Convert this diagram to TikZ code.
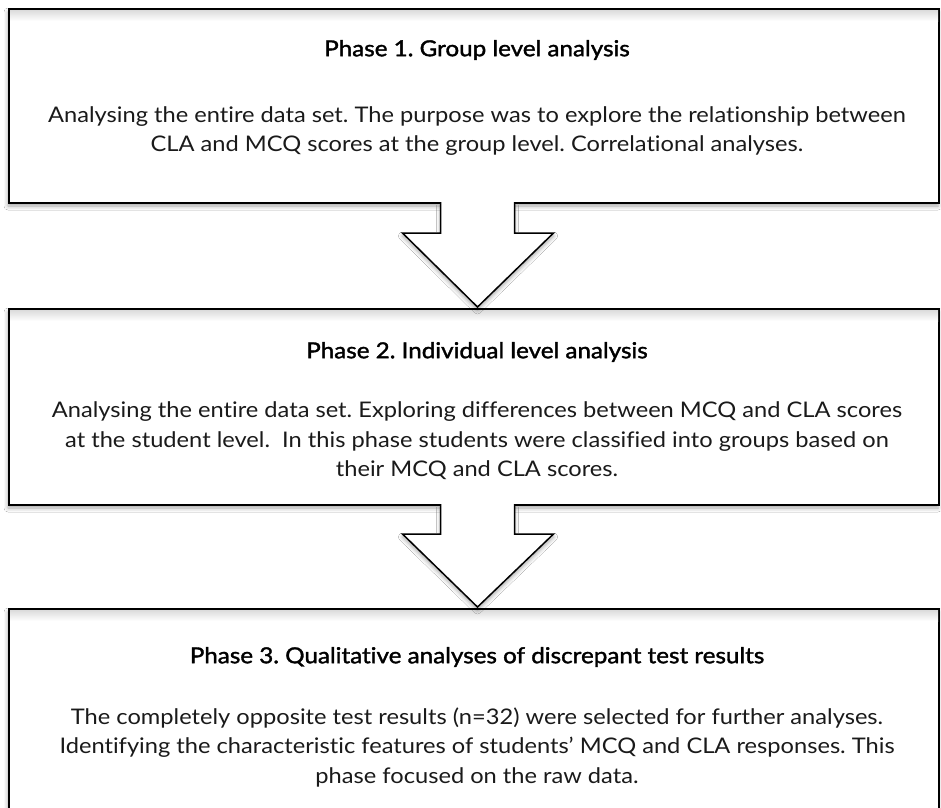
\documentclass[tikz,border=0pt]{standalone}
\usepackage{fontspec}
\setmainfont[FakeStretch=1.1, Ligatures=NoCommon]{Lato}
\newfontfamily\headfont[FakeStretch=1.1, FakeBold=1.6, Ligatures=NoCommon]{Lato}
\usetikzlibrary{calc,shadows.blur}
\definecolor{ink}{HTML}{1A1A1A}
\frenchspacing
\tikzset{
  phasebox/.style={draw=black, line width=2pt, fill=white, minimum width=930pt,
    inner sep=0pt, outer sep=0pt,
    blur shadow={shadow xshift=-1pt, shadow yshift=-3pt, shadow blur radius=4pt, shadow opacity=35}},
  phasetitle/.style={text=black, font=\headfont\fontsize{22}{26}\selectfont, inner sep=0pt},
  phasetext/.style={text=ink, align=center, font=\fontsize{21.5}{29.5}\selectfont, inner sep=0pt},
  blockarrow/.style={draw=black, line width=1.5pt, fill=white, line join=miter,
    blur shadow={shadow xshift=0pt, shadow yshift=-3pt, shadow blur radius=4pt, shadow opacity=35}}
}
\begin{document}
\begin{tikzpicture}[x=1pt, y=-1pt]
  \useasboundingbox (0,0) rectangle (941,807);
  \fill[white] (0,0) rectangle (941,807);

  % the three phase boxes
  \node[phasebox, minimum height=194pt] (b1) at (474,106) {};
  \node[phasebox, minimum height=196pt] (b2) at (474,407) {};
  \node[phasebox, minimum height=230pt] (b3) at (474,724) {};

  % soft inner shading below each top edge
  \foreach \b in {b1,b2,b3}{
    \shade[top color=black!14, bottom color=white]
      ($(\b.north west)+(1,1)$) rectangle ($(\b.north east)+(-1,12)$);
  }

  % texts
  \node[phasetitle] (t1) at (477,50) {Phase 1. Group level analysis};
  \node[phasetext] (d1) at (477,131) {Analysing the entire data set. The purpose was to explore the relationship between\\CLA and MCQ scores at the group level. Correlational analyses.};

  \node[phasetitle] (t2) at (477,352) {Phase 2. Individual level analysis};
  \node[phasetext] (d2) at (477,441) {Analysing the entire data set. Exploring differences between MCQ and CLA scores\\at the student level.\ \ In this phase students were classified into groups based on\\their MCQ and CLA scores.};

  \node[phasetitle] (t3) at (477,657) {Phase 3. Qualitative analyses of discrepant test results};
  \node[phasetext] (d3) at (477,747) {The completely opposite test results (n=32) were selected for further analyses.\\Identifying the characteristic features of students' MCQ and CLA responses. This\\phase focused on the raw data.};

  % block arrows from one phase to the next
  \coordinate (a1) at ($(b1.south)+(3.5,0)$);
  \coordinate (a2) at ($(b2.south)+(3.5,0)$);
  \draw[blockarrow] ($(a1)+(-37,-1)$) -- ++(0,31) -- ++(-38,0) -- ($(b2.north)+(3.5,-2)$)
    -- ($(a1)+(76,30)$) -- ++(-39,0) -- ++(0,-31);
  \draw[blockarrow] ($(a2)+(-37,-1)$) -- ++(0,30) -- ++(-38,0) -- ($(b3.north)+(3.5,-2)$)
    -- ($(a2)+(76,29)$) -- ++(-39,0) -- ++(0,-30);
\end{tikzpicture}
\end{document}
